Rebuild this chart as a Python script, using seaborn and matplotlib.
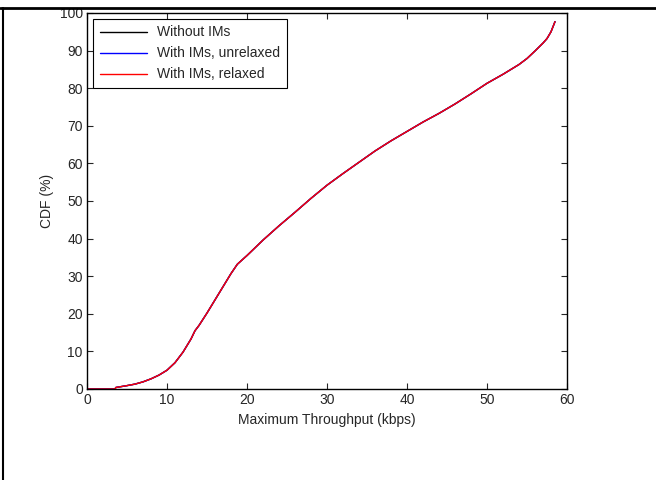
import seaborn as sns
import matplotlib.pyplot as plt
import pandas as pd
from matplotlib.lines import Line2D

sns.set_style("ticks")
plt.rcParams['font.family'] = ['Liberation Sans', 'DejaVu Sans']

# CDF of maximum throughput
throughput = [0, 3.5, 3.6, 5, 6, 7, 8, 9, 10, 11, 12, 13, 13.5, 14, 15, 16, 17,
              18, 18.8, 20, 22, 24, 26, 28, 30, 32, 34, 36, 38, 40, 42, 44, 46,
              48, 50, 52, 54, 55, 56, 57, 57.5, 58, 58.5]
cdf = [0, 0, 0.4, 0.9, 1.3, 1.9, 2.7, 3.7, 5.0, 7.0, 9.8, 13.3, 15.5, 16.9, 20.2,
       23.7, 27.2, 30.7, 33.2, 35.5, 39.6, 43.4, 47.0, 50.7, 54.2, 57.3, 60.3,
       63.3, 66.0, 68.5, 71.0, 73.3, 75.8, 78.5, 81.3, 83.7, 86.3, 87.9, 89.9,
       92.0, 93.2, 95.0, 97.7]
labels = ["Without IMs", "With IMs, unrelaxed", "With IMs, relaxed"]
colors = ["black", "blue", "red"]

frames = []
for lab in labels:
    frames.append(pd.DataFrame({"x": throughput, "y": cdf, "case": lab}))
df = pd.concat(frames, ignore_index=True)

fig = plt.figure(figsize=(6.56, 4.8), dpi=100)
ax = fig.add_axes([87 / 656, 1 - 389 / 480, 480 / 656, 376 / 480])

sns.lineplot(data=df, x="x", y="y", hue="case", palette=colors,
             hue_order=labels, ax=ax, linewidth=1.0, legend=False,
             estimator=None, sort=False)

ax.set_xlim(0, 60)
ax.set_ylim(0, 100)
ax.set_xticks(range(0, 61, 10))
ax.set_yticks(range(0, 101, 10))
ax.tick_params(direction="in", top=True, right=True, length=4, width=0.8,
               labelsize=10, pad=3)
for s in ax.spines.values():
    s.set_linewidth(1.0)
    s.set_color("black")
ax.set_xlabel("Maximum Throughput (kbps)", fontsize=10)
ax.set_ylabel("CDF (%)", fontsize=10)

handles = [Line2D([], [], color=c, lw=1.0) for c in colors]
leg = ax.legend(handles, labels, loc="upper left", fontsize=10, frameon=True,
                fancybox=False, edgecolor="black", framealpha=1,
                borderaxespad=0.4, handlelength=3.4, borderpad=0.5,
                labelspacing=0.5, handletextpad=0.75)
leg.get_frame().set_linewidth(0.8)

# outer frame lines from the source document
fig.add_artist(Line2D([0, 1], [1 - 8 / 480, 1 - 8 / 480], color="black",
                      lw=2, transform=fig.transFigure))
fig.add_artist(Line2D([3 / 656, 3 / 656], [0, 1 - 8 / 480], color="black",
                      lw=1.5, transform=fig.transFigure))

fig.savefig("out.png", dpi=100)
